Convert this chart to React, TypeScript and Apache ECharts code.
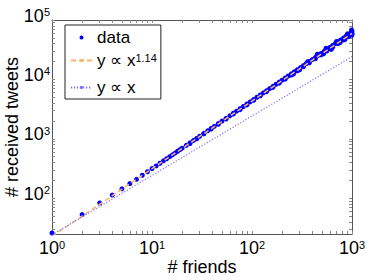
import { useEffect, useRef } from "react";
import * as echarts from "echarts";

const friends = [
  1, 2, 3, 4, 5, 6, 7, 8, 9, 10, 11, 12, 13, 14, 15, 16, 17, 18, 19, 20,
  22, 24, 24, 26, 28, 28, 30, 33, 33, 36, 39, 39, 42, 46, 46, 50, 55, 55, 60,
  65, 65, 70, 76, 76, 82, 89, 89, 96, 104, 104, 112, 121, 121, 130, 140, 140,
  150, 162, 162, 174, 187, 187, 200, 215, 215, 230, 247, 247, 260, 265, 284,
  284, 300, 305, 327, 327, 350, 360, 375, 375, 400, 430, 430, 450, 460, 490,
  490, 520, 525, 550, 560, 560, 600, 620, 640, 640, 680, 700, 725, 725, 760,
  770, 820, 820, 850, 870, 900, 925, 925, 950, 980, 990, 1000, 1000, 1000,
];
const tweets = [
  26, 53, 83, 113, 144, 176, 208, 244, 279, 315, 350, 388, 426, 462, 500, 537,
  576, 618, 656, 696, 775, 855, 835, 940, 1015, 1000, 1105, 1235, 1210, 1365,
  1495, 1460, 1625, 1805, 1760, 1985, 2215, 2150, 2440, 2690, 2610, 2920, 3210,
  3100, 3500, 3850, 3720, 4190, 4600, 4450, 5010, 5480, 5300, 5940, 6450, 6230,
  6990, 7640, 7350, 8300, 9000, 8650, 9700, 10550, 10150, 11400, 12400, 11850,
  12300, 13450, 14550, 13900, 14500, 15800, 17100, 16300, 18500, 19800, 20000,
  19000, 21600, 23500, 22200, 26500, 25400, 27300, 25800, 27000, 29600, 33500,
  31900, 30000, 34500, 32000, 37200, 34800, 40000, 43500, 43000, 40000, 41500,
  46200, 49600, 46000, 47000, 53500, 58500, 57500, 52500, 55000, 62000, 68000,
  65000, 56000, 60000,
];
const fitX = [1, 1000];
const fitPowerY = [22.7, 59700];
const fitLinearY = [24.2, 24200];
const xLabelValues = [1, 10, 100, 1000];
const yLabelValues = [100, 1000, 10000, 100000];
const xTickValues = [
  1, 2, 3, 4, 5, 6, 7, 8, 9, 10, 20, 30, 40, 50, 60, 70, 80, 90, 100, 200, 300,
  400, 500, 600, 700, 800, 900, 1000,
];
const yTickValues = [
  30, 40, 50, 60, 70, 80, 90, 100, 200, 300, 400, 500, 600, 700, 800, 900, 1000,
  2000, 3000, 4000, 5000, 6000, 7000, 8000, 9000, 10000, 20000, 30000, 40000,
  50000, 60000, 70000, 80000, 90000, 100000,
];
const seriesNames = ["data", "y ∝ x^1.14", "y ∝ x"];

const FONT = "'Liberation Sans', Arial, Helvetica, sans-serif";

const tickRich = {
  b: { fontSize: 18, lineHeight: 18, verticalAlign: "bottom", color: "#000", fontFamily: FONT },
  s: { fontSize: 11, lineHeight: 11, verticalAlign: "top", padding: [0, 0, 11, 0], color: "#000", fontFamily: FONT },
};
const legendRich = {
  b: { fontSize: 17, lineHeight: 17, verticalAlign: "bottom", color: "#000", fontFamily: FONT },
  s: { fontSize: 11, lineHeight: 11, verticalAlign: "top", padding: [0, 0, 10, 0], color: "#000", fontFamily: FONT },
};

const powLabel = (v: number) => `{b|10}{s|${Math.round(Math.log10(v))}}`;

export default function App() {
  const ref = useRef<HTMLDivElement>(null);
  useEffect(() => {
    if (!ref.current) return;
    const chart = echarts.init(ref.current, undefined, { renderer: "svg" });
    const axisLine = { show: true, lineStyle: { color: "#555", width: 1 } };
    const tickStyle = { color: "#888", width: 1 };
    chart.setOption({
      animation: false,
      textStyle: { fontFamily: FONT },
      grid: { left: 52, right: 36, top: 20, bottom: 46, outerBoundsMode: "none" },
      legend: {
        orient: "vertical",
        left: 65,
        top: 25,
        padding: [4, 4, 3, 5],
        itemGap: 6,
        itemWidth: 21,
        itemHeight: 4,
        borderColor: "#222",
        borderWidth: 1,
        borderRadius: 0,
        backgroundColor: "#fff",
        data: [
          { name: seriesNames[0], icon: "circle" },
          { name: seriesNames[1] },
          { name: seriesNames[2] },
        ],
        formatter: (name: string) =>
          name === seriesNames[1] ? "{b|y ∝ x}{s|1.14}" : `{b|${name}}`,
        textStyle: { fontSize: 17, color: "#000", fontFamily: FONT, rich: legendRich },
      },
      xAxis: [
        {
          type: "log",
          logBase: 10,
          min: 1,
          max: 1000,
          position: "bottom",
          name: "# friends",
          nameLocation: "middle",
          nameGap: 24,
          nameMoveOverlap: false,
          nameTextStyle: { fontSize: 18, color: "#000", fontFamily: FONT },
          axisLine,
          axisTick: { show: true, inside: true, length: 3, lineStyle: tickStyle, customValues: xTickValues },
          axisLabel: {
            show: true,
            margin: 5,
            customValues: xLabelValues,
            formatter: powLabel,
            rich: tickRich,
          },
          splitLine: { show: false },
          minorTick: { show: false },
        },
        {
          type: "log",
          logBase: 10,
          min: 1,
          max: 1000,
          position: "top",
          axisLine,
          axisTick: { show: true, inside: true, length: 3, lineStyle: tickStyle, customValues: xTickValues },
          axisLabel: { show: false },
          splitLine: { show: false },
        },
      ],
      yAxis: [
        {
          type: "log",
          logBase: 10,
          min: 25,
          max: 100000,
          position: "left",
          name: "# received tweets",
          nameLocation: "middle",
          nameGap: 31,
          nameMoveOverlap: false,
          nameTextStyle: { fontSize: 18, color: "#000", fontFamily: FONT },
          axisLine,
          axisTick: { show: true, inside: true, length: 3, lineStyle: tickStyle, customValues: yTickValues },
          axisLabel: {
            show: true,
            margin: 2,
            padding: [0, 0, 9, 0],
            customValues: yLabelValues,
            formatter: powLabel,
            rich: tickRich,
          },
          splitLine: { show: false },
        },
        {
          type: "log",
          logBase: 10,
          min: 25,
          max: 100000,
          position: "right",
          axisLine,
          axisTick: { show: true, inside: true, length: 3, lineStyle: tickStyle, customValues: yTickValues },
          axisLabel: { show: false },
          splitLine: { show: false },
        },
      ],
      series: [
        {
          name: seriesNames[0],
          type: "scatter",
          xAxisIndex: 0,
          yAxisIndex: 0,
          symbol: "circle",
          symbolSize: 5,
          itemStyle: { color: "#0000ff", opacity: 1 },
          data: friends.map((f, i) => [f, tweets[i]]),
          z: 2,
        },
        {
          name: seriesNames[1],
          type: "line",
          xAxisIndex: 0,
          yAxisIndex: 0,
          showSymbol: false,
          symbol: "none",
          itemStyle: { color: "#ffb06a" },
          lineStyle: { color: "#ffb06a", width: 1.5, type: [5, 3] },
          data: fitX.map((x, i) => [x, fitPowerY[i]]),
          z: 3,
        },
        {
          name: seriesNames[2],
          type: "line",
          xAxisIndex: 0,
          yAxisIndex: 0,
          showSymbol: false,
          symbol: "none",
          itemStyle: { color: "#7575ff" },
          lineStyle: { color: "#7575ff", width: 1.2, type: [1.2, 1.8] },
          data: fitX.map((x, i) => [x, fitLinearY[i]]),
          z: 3,
        },
      ],
    });
    return () => chart.dispose();
  }, []);
  return (
    <div style={{ position: "fixed", left: 0, top: 0, width: 388, height: 280, background: "#fff" }}>
      <div ref={ref} style={{ width: 388, height: 280 }} />
    </div>
  );
}
